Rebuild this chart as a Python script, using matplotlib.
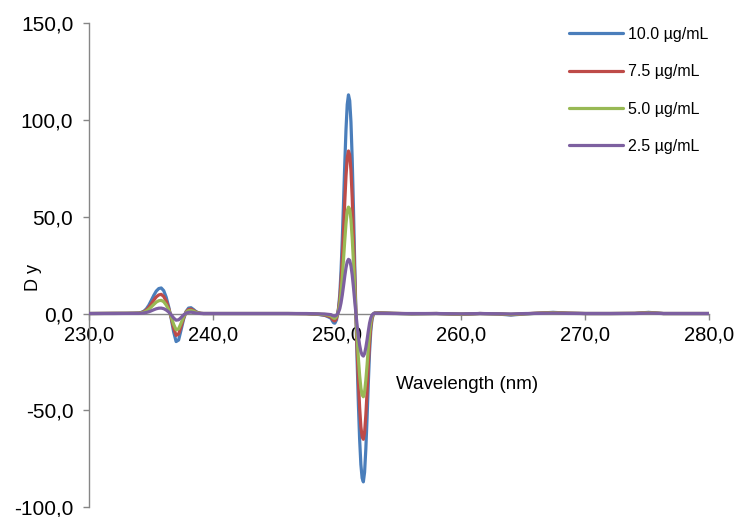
import matplotlib
matplotlib.use("Agg")
import matplotlib.pyplot as plt
from matplotlib.ticker import FuncFormatter, MultipleLocator

plt.rcParams['font.family'] = ['Liberation Sans', 'DejaVu Sans']

# ---------------- data ----------------
wl_start = [230.0, 232.0, 233.0, 233.6]
wl_small = [234.0, 234.2, 234.4, 234.6, 234.8, 235.0, 235.2, 235.4, 235.6, 235.8,
            236.0, 236.2, 236.4, 236.6, 236.8, 237.0, 237.2, 237.4, 237.6, 237.8,
            238.0, 238.2, 238.4, 238.6, 238.8, 239.0, 239.2]
wl_mid = [240.0, 242.0, 244.0, 246.0, 247.5, 248.5, 249.0, 249.3]
wl_big = [249.5, 249.6, 249.7, 249.8, 249.9, 250.0, 250.1, 250.2, 250.3, 250.4,
          250.5, 250.6, 250.7, 250.8, 250.9, 251.0, 251.1, 251.2, 251.3, 251.4,
          251.5, 251.6, 251.7, 251.8, 251.9, 252.0, 252.1, 252.2, 252.3, 252.4,
          252.5, 252.6, 252.7, 252.8, 252.9, 253.0]
wl_end = [253.5, 254.5, 256.0, 258.0, 260.0, 261.5, 263.0, 264.0, 265.2, 266.2,
          267.4, 268.6, 270.0, 272.0, 274.0, 275.1, 276.3, 278.0, 280.0]

wavelength = wl_start + wl_small + wl_mid + wl_big + wl_end

c100 = ([0.0, 0.1, 0.1, 0.2] +
        [0.3, 0.6, 1.2, 2.4, 4.3, 6.8, 9.4, 11.6, 12.9, 13.2,
         11.8, 8.4, 3.5, -2.5, -9.5, -14.5, -13.7, -8.5, -3.0, 1.0,
         2.8, 3.0, 2.1, 1.0, 0.4, 0.1, 0.0] +
        [0.0, 0.0, 0.0, 0.0, -0.1, -0.5, -1.0, -1.8] +
        [-2.5, -3.8, -4.8, -5.0, -3.8, -1.2, 3.0, 10.0, 22.0, 38.0,
         57.0, 77.0, 95.0, 108.0, 113.0, 110.0, 99.0, 80.0, 55.0, 27.0,
         0.0, -25.0, -47.0, -65.0, -78.0, -85.0, -87.0, -82.0, -70.0, -54.0,
         -36.0, -20.0, -9.0, -3.0, -0.5, 0.3] +
        [0.4, 0.1, -0.2, 0.0, -0.5, 0.0, -0.3, -0.8, -0.2, 0.2,
         0.6, 0.2, 0.0, 0.0, 0.1, 0.6, 0.0, 0.0, 0.0])

c75 = ([0.0, 0.1, 0.1, 0.15] +
       [0.2, 0.5, 0.9, 1.8, 3.2, 5.0, 6.9, 8.6, 9.6, 9.9,
        8.8, 6.4, 2.7, -2.0, -7.5, -11.3, -10.6, -6.7, -2.4, 0.8,
        2.1, 2.3, 1.6, 0.8, 0.3, 0.1, 0.0] +
       [0.0, 0.0, 0.0, 0.0, -0.1, -0.4, -0.8, -1.4] +
       [-1.9, -2.9, -3.6, -3.8, -2.9, -0.9, 2.2, 7.5, 16.5, 28.5,
        42.5, 57.5, 71.0, 80.5, 84.0, 82.0, 74.0, 60.0, 41.0, 20.0,
        0.0, -19.0, -35.0, -48.5, -58.5, -63.5, -65.0, -61.5, -52.5, -40.5,
        -27.0, -15.0, -6.8, -2.3, -0.4, 0.2] +
       [0.3, 0.1, -0.1, 0.0, -0.4, 0.0, -0.2, -0.6, -0.1, 0.2,
        0.5, 0.2, 0.0, 0.0, 0.1, 0.5, 0.0, 0.0, 0.0])

c50 = ([0.0, 0.05, 0.1, 0.1] +
       [0.15, 0.35, 0.65, 1.3, 2.2, 3.4, 4.7, 5.9, 6.6, 6.8,
        6.1, 4.4, 1.9, -1.5, -5.6, -8.4, -7.9, -5.0, -1.8, 0.6,
        1.5, 1.6, 1.2, 0.6, 0.2, 0.05, 0.0] +
       [0.0, 0.0, 0.0, 0.0, -0.05, -0.3, -0.5, -0.9] +
       [-1.3, -1.9, -2.4, -2.5, -1.9, -0.6, 1.5, 4.9, 10.8, 18.6,
        28.0, 37.7, 46.5, 53.0, 55.0, 54.0, 48.5, 39.0, 27.0, 13.2,
        0.0, -12.4, -23.3, -32.0, -38.5, -42.0, -43.0, -40.5, -34.5, -26.7,
        -17.8, -9.9, -4.5, -1.5, -0.3, 0.1] +
       [0.2, 0.05, -0.1, 0.0, -0.3, 0.0, -0.15, -0.4, -0.1, 0.1,
        0.35, 0.1, 0.0, 0.0, 0.05, 0.35, 0.0, 0.0, 0.0])

c25 = ([0.0, 0.0, 0.05, 0.05] +
       [0.05, 0.15, 0.3, 0.55, 0.9, 1.4, 1.95, 2.45, 2.75, 2.8,
        2.5, 1.8, 0.8, -0.6, -2.3, -3.45, -3.25, -2.1, -0.75, 0.25,
        0.6, 0.7, 0.5, 0.25, 0.1, 0.0, 0.0] +
       [0.0, 0.0, 0.0, 0.0, 0.0, -0.15, -0.25, -0.45] +
       [-0.6, -1.0, -1.2, -1.3, -1.0, -0.3, 0.8, 2.5, 5.5, 9.5,
        14.2, 19.2, 23.6, 26.8, 28.0, 27.5, 24.6, 20.0, 13.7, 6.7,
        0.0, -6.3, -11.8, -16.3, -19.6, -21.4, -22.0, -20.7, -17.6, -13.6,
        -9.1, -5.0, -2.3, -0.8, -0.1, 0.1] +
       [0.1, 0.0, 0.0, 0.0, -0.15, 0.0, -0.1, -0.2, 0.0, 0.05,
        0.2, 0.05, 0.0, 0.0, 0.0, 0.2, 0.0, 0.0, 0.0])

series = [c100, c75, c50, c25]
labels = ["10.0 \u00b5g/mL", "7.5 \u00b5g/mL", "5.0 \u00b5g/mL", "2.5 \u00b5g/mL"]
colors = ["#4A7EBB", "#BE4B48", "#98B954", "#7D60A0"]

# ---------------- figure ----------------
fig = plt.figure(figsize=(7.37, 5.17), dpi=100)
ax = fig.add_axes([0.1212, 0.0193, 0.8412, 0.9357])

for ys, lab, col in zip(series, labels, colors):
    ax.plot(wavelength, ys, color=col, lw=2.3, label=lab, solid_capstyle='round', zorder=3)

ax.set_xlim(230, 280)
ax.set_ylim(-100, 150)

spine_col = "#868686"
for s in ["top", "right"]:
    ax.spines[s].set_visible(False)
ax.spines["bottom"].set_position(("data", 0))
ax.spines["bottom"].set_color(spine_col)
ax.spines["left"].set_color(spine_col)
ax.spines["bottom"].set_linewidth(1.0)
ax.spines["left"].set_linewidth(1.0)
ax.spines["bottom"].set_zorder(2)

ax.xaxis.set_major_locator(MultipleLocator(10))
ax.yaxis.set_major_locator(MultipleLocator(50))
fmt = FuncFormatter(lambda v, p: f"{v:.1f}".replace(".", ","))
ax.xaxis.set_major_formatter(fmt)
ax.yaxis.set_major_formatter(fmt)

ax.tick_params(axis="y", direction="out", length=4.5, width=1, color=spine_col,
               labelsize=15, pad=7, labelcolor="black")
ax.tick_params(axis="x", direction="out", length=4.5, width=1, color=spine_col,
               labelsize=14.5, pad=4, labelcolor="black")

ax.set_xlabel("Wavelength (nm)", fontsize=13.5)
ax.xaxis.set_label_coords(0.609, 0.27)
ax.set_ylabel("D y", fontsize=13)
ax.yaxis.set_label_coords(-0.076, 0.475)

leg = fig.legend(loc="upper left", bbox_to_anchor=(561 / 737, 1 - 19 / 517),
                 frameon=False, fontsize=11.5, handlelength=3.4, handletextpad=0.3,
                 labelspacing=1.4, borderpad=0.0)
for line in leg.get_lines():
    line.set_linewidth(2.3)

fig.savefig("out.png", dpi=100)
